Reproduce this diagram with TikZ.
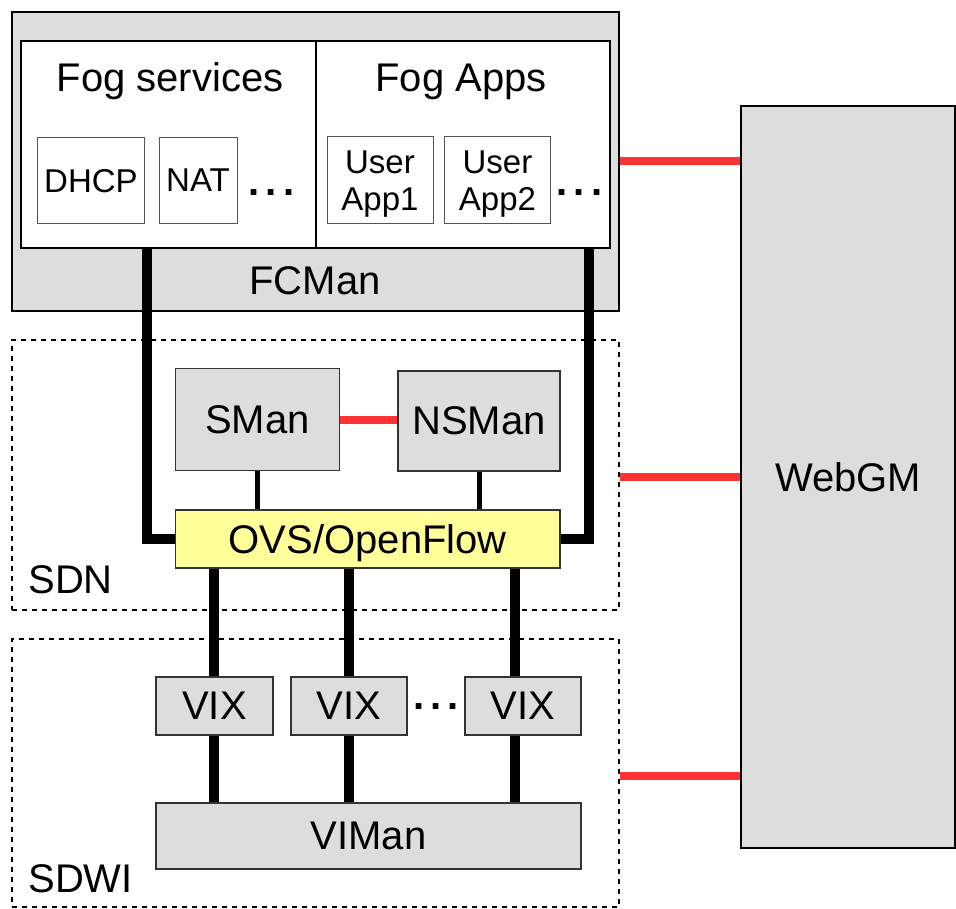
\documentclass[tikz,border=0pt]{standalone}
\usepackage{fontspec}
\setmainfont{Liberation Sans}
\newcommand\fsbig{\fontsize{20}{24}\selectfont}
\newcommand\fssmall{\fontsize{16.5}{18.5}\selectfont}
\definecolor{boxgray}{HTML}{DDDDDD}
\definecolor{bordergray}{HTML}{333333}
\definecolor{thingray}{HTML}{555555}
\definecolor{ovsyellow}{HTML}{FFFF99}
\definecolor{linkred}{HTML}{FF3333}
\begin{document}
\begin{tikzpicture}[x=0.5pt,y=-0.5pt,
  box/.style={draw, rectangle, inner sep=0pt, text depth=0pt},
  wh/.style 2 args={minimum width=#1*0.5pt, minimum height=#2*0.5pt},
  gbox/.style={box, fill=boxgray, draw=bordergray, line width=0.75pt, font=\fsbig},
  wbox/.style={box, fill=white, draw=black, line width=1pt},
  sbox/.style={box, fill=white, draw=thingray, line width=0.5pt, font=\fssmall},
  dbox/.style={box, draw=black, line width=1pt, dash pattern=on 2.5pt off 2.5pt},
  title/.style={anchor=base, font=\fsbig, inner sep=0pt},
  dots/.style={anchor=base, font=\fsbig\bfseries, inner sep=0pt},
  thick link/.style={draw=black, line width=5pt, line join=miter},
  thin link/.style={draw=black, line width=2.5pt},
  redline/.style={draw=linkred, line width=4pt}
]
\useasboundingbox (0,0) rectangle (956,908);

% FCMan
\node[gbox, draw=black, line width=1pt, wh={607}{299}] (fcman) at (315.5,161.5) {};
\node[title] (fcmanlbl) at (315,295) {FCMan};
\node[wbox, wh={294.5}{207}] (fs) at (168.25,144.5) {};
\node[wbox, wh={294.5}{207}] (fa) at (462.75,144.5) {};
\node[title] (fstitle) at (170,92) {Fog services};
\node[title] (fatitle) at (461,92) {Fog Apps};
\node[sbox, wh={107}{86}] (dhcp) at (91,180.5) {DHCP};
\node[sbox, wh={78}{86}] (nat) at (198,180.5) {NAT};
\node[dots] (dots1) at (271.5,196) {.\hspace{3pt}.\hspace{3pt}.};
\node[sbox, wh={106}{87}, align=center] (app1) at (380,180.5) {User\\App1};
\node[sbox, wh={106}{87}, align=center] (app2) at (497.5,180.5) {User\\App2};
\node[dots] (dots2) at (579.5,196) {.\hspace{3pt}.\hspace{3pt}.};

% SDN
\node[dbox, wh={607}{270}] (sdn) at (315.5,475) {};
\node[title, anchor=base west] (sdnlbl) at (28,593) {SDN};
\node[gbox, wh={164}{102}] (sman) at (257.5,419.5) {SMan};
\node[gbox, wh={162}{100}] (nsman) at (479,421) {NSMan};
\node[gbox, fill=ovsyellow, wh={384.5}{58}] (ovs) at (367.75,539) {OVS/OpenFlow};

% SDWI
\node[dbox, wh={607}{268}] (sdwi) at (315.5,772.5) {};
\node[title, anchor=base west] (sdwilbl) at (28,892) {SDWI};
\node[gbox, wh={117}{58}] (vix1) at (214.5,706) {VIX};
\node[gbox, wh={116}{58}] (vix2) at (349,706) {VIX};
\node[gbox, wh={116}{58}] (vix3) at (523,706) {VIX};
\node[dots] (dots3) at (436,709) {.\hspace{3pt}.\hspace{3pt}.};
\node[gbox, wh={425}{66}] (viman) at (368.5,836) {VIMan};

% WebGM
\node[gbox, draw=black, line width=1pt, wh={214}{742}] (webgm) at (848,477) {WebGM};

% helper coordinates
\coordinate (lx) at (147,0);
\coordinate (rx) at (588.5,0);
\coordinate (c1) at (214,0);
\coordinate (c2) at (349,0);
\coordinate (c3) at (515,0);
\coordinate (y1) at (0,161);
\coordinate (y2) at (0,477);
\coordinate (y3) at (0,776);

% thick links FCMan -> OVS
\draw[thick link] (lx |- fs.south) |- (ovs.west);
\draw[thick link] (rx |- fa.south) |- (ovs.east);

% thin links managers -> OVS
\draw[thin link] (sman.south) -- (sman.south |- ovs.north);
\draw[thin link] (nsman.south) -- (nsman.south |- ovs.north);
\draw[redline] (sman.east) -- (sman.east -| nsman.west);

% OVS -> VIX -> VIMan
\draw[thick link] (c1 |- ovs.south) -- (c1 |- vix1.north);
\draw[thick link] (c1 |- vix1.south) -- (c1 |- viman.north);
\draw[thick link] (c2 |- ovs.south) -- (c2 |- vix2.north);
\draw[thick link] (c2 |- vix2.south) -- (c2 |- viman.north);
\draw[thick link] (c3 |- ovs.south) -- (c3 |- vix3.north);
\draw[thick link] (c3 |- vix3.south) -- (c3 |- viman.north);

% red links to WebGM
\draw[redline] (fcman.east |- y1) -- (webgm.west |- y1);
\draw[redline] (sdn.east |- y2) -- (webgm.west |- y2);
\draw[redline] (sdwi.east |- y3) -- (webgm.west |- y3);
\end{tikzpicture}
\end{document}
